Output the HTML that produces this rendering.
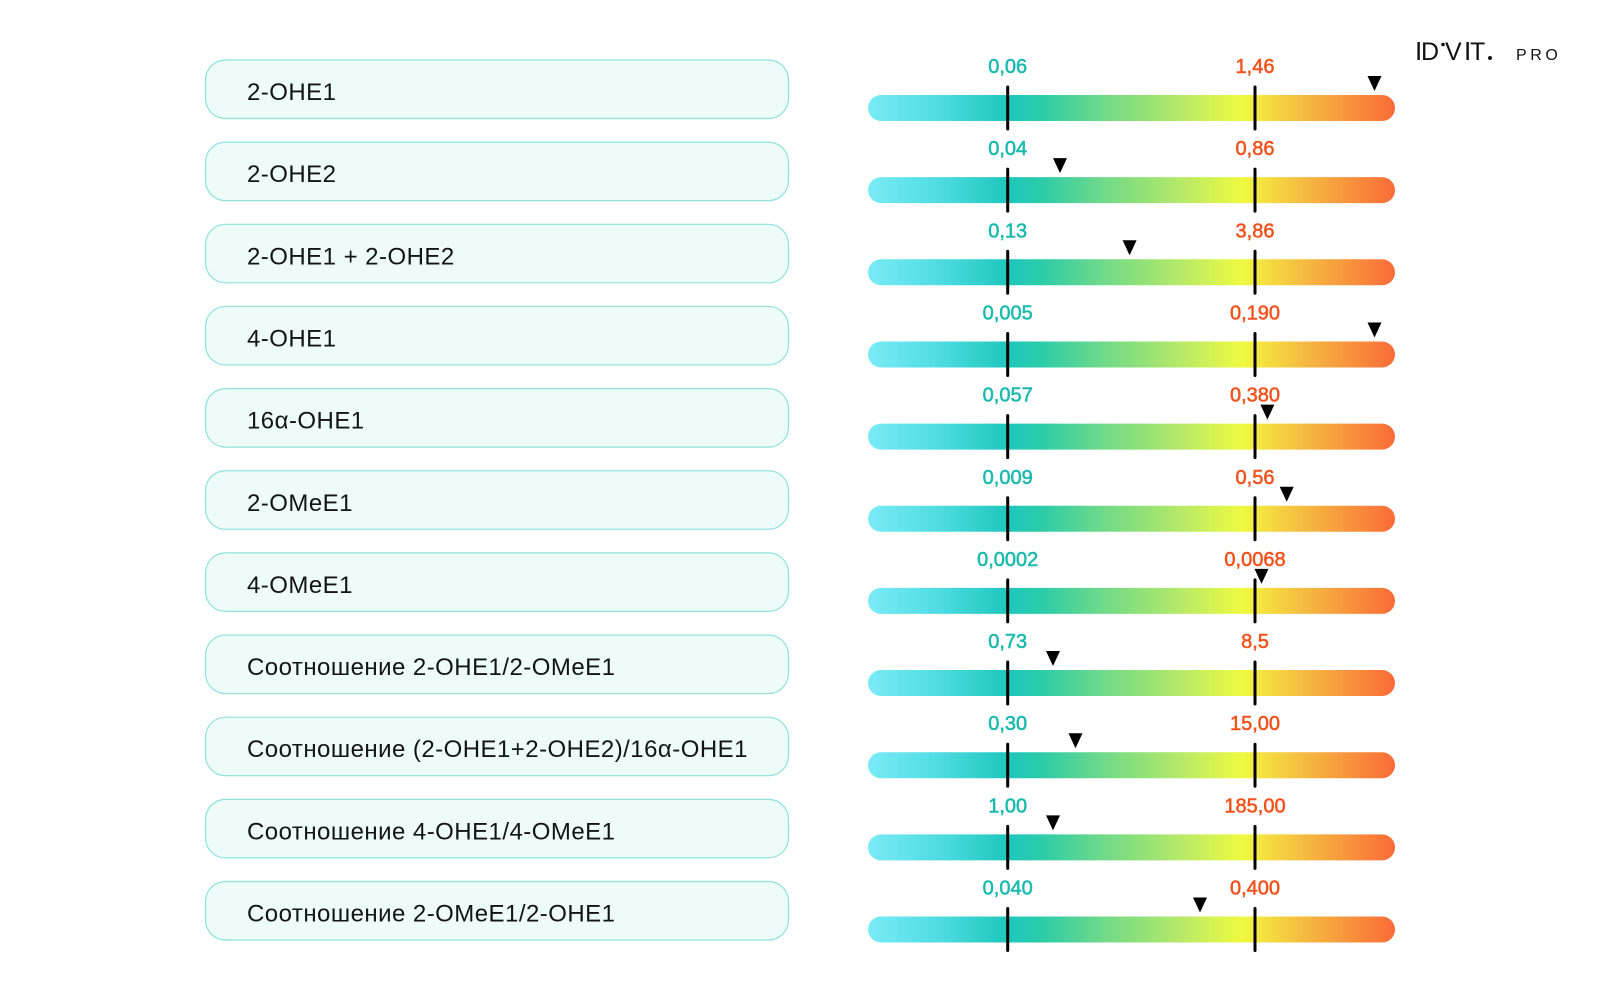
<!DOCTYPE html>
<html>
<head>
<meta charset="utf-8">
<style>
  html,body{margin:0;padding:0;background:#fff;}
  svg{display:block;}
  .nm{font-family:"Liberation Sans","DejaVu Sans",sans-serif;font-size:24px;fill:#141414;letter-spacing:0.46px;}
  .lt{font-family:"Liberation Sans","DejaVu Sans",sans-serif;font-size:20px;fill:#1bbaae;text-anchor:middle;stroke:#1bbaae;stroke-width:0.55px;}
  .lo{font-family:"Liberation Sans","DejaVu Sans",sans-serif;font-size:20px;fill:#f2521c;text-anchor:middle;stroke:#f2521c;stroke-width:0.55px;}
  .logo{font-family:"Liberation Sans","DejaVu Sans",sans-serif;fill:#111;}
</style>
</head>
<body>
<svg width="1600" height="1000" viewBox="0 0 1600 1000" xmlns="http://www.w3.org/2000/svg">
  <defs>
    <linearGradient id="g" gradientUnits="userSpaceOnUse" x1="868" y1="0" x2="1395" y2="0">
      <stop offset="0" stop-color="#7aebf7"/>
      <stop offset="0.13" stop-color="#50dde2"/>
      <stop offset="0.265" stop-color="#1ec7be"/>
      <stop offset="0.33" stop-color="#2ccca9"/>
      <stop offset="0.44" stop-color="#6dd98b"/>
      <stop offset="0.5" stop-color="#88df7c"/>
      <stop offset="0.59" stop-color="#b5e96a"/>
      <stop offset="0.71" stop-color="#effa40"/>
      <stop offset="0.76" stop-color="#f5dc40"/>
      <stop offset="0.82" stop-color="#f5be41"/>
      <stop offset="0.92" stop-color="#f8903c"/>
      <stop offset="1" stop-color="#fb6b38"/>
    </linearGradient>
    <g id="row">
      <rect x="205.5" y="60" width="583" height="58.5" rx="20" ry="20" fill="#edfcf9" stroke="#90e1dc" stroke-width="1.2"/>
      <rect x="868" y="95" width="527" height="26" rx="13" ry="13" fill="url(#g)"/>
      <line x1="1007.7" y1="87" x2="1007.7" y2="129" stroke="#000" stroke-width="3" stroke-linecap="round"/>
      <line x1="1255" y1="87" x2="1255" y2="129" stroke="#000" stroke-width="3" stroke-linecap="round"/>
    </g>
  </defs>

  <!-- Logo -->
  <text class="logo" x="1415" y="60" font-size="26">I</text>
  <text class="logo" x="1421" y="60" font-size="25">D</text>
  <circle cx="1443" cy="44.5" r="1.8" fill="#111"/>
  <text class="logo" x="1445" y="60" font-size="25">V</text>
  <text class="logo" x="1464" y="60" font-size="26">I</text>
  <text class="logo" x="1470" y="60" font-size="25">T</text>
  <circle cx="1490" cy="58" r="2" fill="#111"/>
  <text class="logo" x="1516" y="60" font-size="16" letter-spacing="3.6">PRO</text>

  <!-- Row 1 -->
  <g transform="translate(0,0)">
    <use href="#row"/>
    <text class="nm" x="247" y="100">2-OHE1</text>
    <text class="lt" x="1007.7" y="73">0,06</text>
    <text class="lo" x="1255" y="73">1,46</text>
    <polygon points="1367.5,76 1381.5,76 1374.5,91" fill="#000"/>
  </g>
  <!-- Row 2 -->
  <g transform="translate(0,82.15)">
    <use href="#row"/>
    <text class="nm" x="247" y="100">2-OHE2</text>
    <text class="lt" x="1007.7" y="73">0,04</text>
    <text class="lo" x="1255" y="73">0,86</text>
    <polygon points="1053,76 1067,76 1060,91" fill="#000"/>
  </g>
  <!-- Row 3 -->
  <g transform="translate(0,164.3)">
    <use href="#row"/>
    <text class="nm" x="247" y="100">2-OHE1 + 2-OHE2</text>
    <text class="lt" x="1007.7" y="73">0,13</text>
    <text class="lo" x="1255" y="73">3,86</text>
    <polygon points="1122.6,76 1136.6,76 1129.6,91" fill="#000"/>
  </g>
  <!-- Row 4 -->
  <g transform="translate(0,246.45)">
    <use href="#row"/>
    <text class="nm" x="247" y="100">4-OHE1</text>
    <text class="lt" x="1007.7" y="73">0,005</text>
    <text class="lo" x="1255" y="73">0,190</text>
    <polygon points="1367.5,76 1381.5,76 1374.5,91" fill="#000"/>
  </g>
  <!-- Row 5 -->
  <g transform="translate(0,328.6)">
    <use href="#row"/>
    <text class="nm" x="247" y="100">16α-OHE1</text>
    <text class="lt" x="1007.7" y="73">0,057</text>
    <text class="lo" x="1255" y="73">0,380</text>
    <polygon points="1260.4,76 1274.4,76 1267.4,91" fill="#000"/>
  </g>
  <!-- Row 6 -->
  <g transform="translate(0,410.75)">
    <use href="#row"/>
    <text class="nm" x="247" y="100">2-OMeE1</text>
    <text class="lt" x="1007.7" y="73">0,009</text>
    <text class="lo" x="1255" y="73">0,56</text>
    <polygon points="1279.7,76 1293.7,76 1286.7,91" fill="#000"/>
  </g>
  <!-- Row 7 -->
  <g transform="translate(0,492.9)">
    <use href="#row"/>
    <text class="nm" x="247" y="100">4-OMeE1</text>
    <text class="lt" x="1007.7" y="73">0,0002</text>
    <text class="lo" x="1255" y="73">0,0068</text>
    <polygon points="1254.5,76 1268.5,76 1261.5,91" fill="#000"/>
  </g>
  <!-- Row 8 -->
  <g transform="translate(0,575.05)">
    <use href="#row"/>
    <text class="nm" x="247" y="100">Соотношение 2-OHE1/2-OMeE1</text>
    <text class="lt" x="1007.7" y="73">0,73</text>
    <text class="lo" x="1255" y="73">8,5</text>
    <polygon points="1046,76 1060,76 1053,91" fill="#000"/>
  </g>
  <!-- Row 9 -->
  <g transform="translate(0,657.2)">
    <use href="#row"/>
    <text class="nm" x="247" y="100">Соотношение (2-OHE1+2-OHE2)/16α-OHE1</text>
    <text class="lt" x="1007.7" y="73">0,30</text>
    <text class="lo" x="1255" y="73">15,00</text>
    <polygon points="1068.5,76 1082.5,76 1075.5,91" fill="#000"/>
  </g>
  <!-- Row 10 -->
  <g transform="translate(0,739.35)">
    <use href="#row"/>
    <text class="nm" x="247" y="100">Соотношение 4-OHE1/4-OMeE1</text>
    <text class="lt" x="1007.7" y="73">1,00</text>
    <text class="lo" x="1255" y="73">185,00</text>
    <polygon points="1046,76 1060,76 1053,91" fill="#000"/>
  </g>
  <!-- Row 11 -->
  <g transform="translate(0,821.5)">
    <use href="#row"/>
    <text class="nm" x="247" y="100">Соотношение 2-OMeE1/2-OHE1</text>
    <text class="lt" x="1007.7" y="73">0,040</text>
    <text class="lo" x="1255" y="73">0,400</text>
    <polygon points="1193,76 1207,76 1200,91" fill="#000"/>
  </g>
</svg>
</body>
</html>
